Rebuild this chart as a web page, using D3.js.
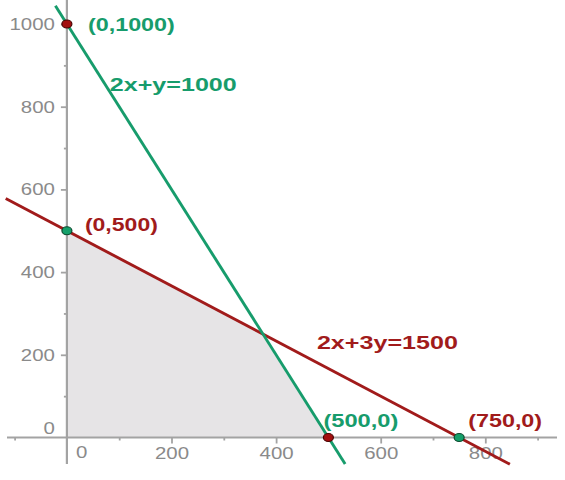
<!DOCTYPE html>
<html>
<head>
<meta charset="utf-8">
<script src="https://cdn.jsdelivr.net/npm/d3@7"></script>
<style>
html,body{margin:0;padding:0;background:#fff;}
svg{display:block;}
</style>
</head>
<body>
<svg id="chart" width="565" height="480"></svg>
<script>
// ---- data ----
const xMajorTicks = [200, 400, 600, 800];
const xMinorTicks = [-100, 100, 300, 500, 700, 900];
const yMajorTicks = [200, 400, 600, 800, 1000];
const yMinorTicks = [100, 300, 500, 700, 900];
const xOriginLabel = "0";
const yOriginLabel = "0";

// constraint lines: a*x + b*y = c, drawn over [xFrom, xTo]
const lineNames = ["2x+y=1000", "2x+3y=1500"];
const lineA = [2, 2];
const lineB = [1, 3];
const lineC = [1000, 1500];
const lineXFrom = [-22, -117];
const lineXTo = [532, 847];

// feasible region vertices
const regionX = [0, 0, 375, 500];
const regionY = [0, 500, 250, 0];

// intercept points
const pointX = [0, 0, 500, 750];
const pointY = [1000, 500, 0, 0];
const pointLabels = ["(0,1000)", "(0,500)", "(500,0)", "(750,0)"];
const pointOnLine = [0, 1, 0, 1]; // which line the point lies on

// ---- styles ----
const lineColors = ["#179c6c", "#a11b1b"];
const dotFill = ["#a30f0f", "#14a06a"];
const dotStroke = ["#4a0000", "#0a4a2e"];
const axisColor = "#a3a3a3";
const tickTextColor = "#8a8a8a";

const svg = d3.select("#chart");
const x = d3.scaleLinear().domain([0, 800]).range([66.9, 485.3]);
const y = d3.scaleLinear().domain([0, 1000]).range([437.5, 24]);

// feasible region
svg.append("polygon")
  .attr("points", regionX.map((d, i) => [x(d), y(regionY[i])].join(",")).join(" "))
  .attr("fill", "#e6e4e6");

// axes lines
svg.append("line").attr("x1", 7).attr("x2", 557).attr("y1", y(0)).attr("y2", y(0))
  .attr("stroke", axisColor).attr("stroke-width", 2);
svg.append("line").attr("x1", x(0)).attr("x2", x(0)).attr("y1", 0).attr("y2", 464)
  .attr("stroke", axisColor).attr("stroke-width", 2.2);

// x axis ticks
const gx = svg.append("g").attr("transform", `translate(0,${y(0)})`);
gx.call(d3.axisBottom(x).tickValues(xMajorTicks).tickSize(6).tickPadding(5).tickFormat(d3.format("d")));
const gxm = svg.append("g").attr("transform", `translate(0,${y(0)})`);
gxm.call(d3.axisBottom(x).tickValues(xMinorTicks).tickSize(3).tickFormat(""));

// y axis ticks
const gy = svg.append("g").attr("transform", `translate(${x(0)},0)`);
gy.call(d3.axisLeft(y).tickValues(yMajorTicks).tickSize(6).tickPadding(6).tickFormat(d3.format("d")));
const gym = svg.append("g").attr("transform", `translate(${x(0)},0)`);
gym.call(d3.axisLeft(y).tickValues(yMinorTicks).tickSize(3).tickFormat(""));

[gx, gxm, gy, gym].forEach(g => {
  g.select(".domain").remove();
  g.selectAll(".tick line").attr("stroke", axisColor).attr("stroke-width", 1.8);
  g.selectAll(".tick text")
    .attr("fill", tickTextColor)
    .attr("font-family", "Liberation Sans, Arial, sans-serif")
    .attr("font-size", 17);
});
gx.selectAll(".tick text").attr("dy", "0.71em").attr("y", 9);
gy.selectAll(".tick text").attr("x", -12);

// origin labels
svg.append("text").attr("x", x(0) + 9).attr("y", 458).text(xOriginLabel)
  .attr("fill", tickTextColor).attr("font-family", "Liberation Sans, Arial, sans-serif").attr("font-size", 17);
svg.append("text").attr("x", x(0) - 12).attr("y", 434).attr("text-anchor", "end").text(yOriginLabel)
  .attr("fill", tickTextColor).attr("font-family", "Liberation Sans, Arial, sans-serif").attr("font-size", 17);

// stretch tick labels horizontally
svg.selectAll("text").each(function () {
  const w = this.getComputedTextLength();
  d3.select(this).attr("textLength", w * 1.2).attr("lengthAdjust", "spacingAndGlyphs");
});

// constraint lines (red first, green on top)
[1, 0].forEach(i => {
  const f = xv => (lineC[i] - lineA[i] * xv) / lineB[i];
  svg.append("line")
    .attr("x1", x(lineXFrom[i])).attr("y1", y(f(lineXFrom[i])))
    .attr("x2", x(lineXTo[i])).attr("y2", y(f(lineXTo[i])))
    .attr("stroke", lineColors[i]).attr("stroke-width", 2.9);
});

// line labels
const lineLabelX = [82, 478];
const lineLabelY = [838, 214];
const lineLabelW = [127, 141];
lineNames.forEach((n, i) => {
  svg.append("text").attr("x", x(lineLabelX[i])).attr("y", y(lineLabelY[i]))
    .text(n).attr("fill", lineColors[i])
    .attr("font-family", "Liberation Sans, Arial, sans-serif").attr("font-weight", "bold")
    .attr("font-size", 19).attr("textLength", lineLabelW[i]).attr("lengthAdjust", "spacingAndGlyphs");
});

// points
const ptDx = [21, 18, -5, 9];
const ptDy = [7, 0, -11, -11];
const ptW = [87, 73, 75, 74];
pointX.forEach((px, i) => {
  const l = pointOnLine[i];
  const other = 1 - l;
  svg.append("ellipse").attr("cx", x(px)).attr("cy", y(pointY[i]))
    .attr("rx", 5).attr("ry", 4)
    .attr("fill", dotFill[other === 1 ? 0 : 1]).attr("stroke", dotStroke[other === 1 ? 0 : 1]).attr("stroke-width", 1.2);
  svg.append("text").attr("x", x(px) + ptDx[i]).attr("y", y(pointY[i]) + ptDy[i])
    .text(pointLabels[i]).attr("fill", lineColors[l])
    .attr("font-family", "Liberation Sans, Arial, sans-serif").attr("font-weight", "bold")
    .attr("font-size", 19).attr("textLength", ptW[i]).attr("lengthAdjust", "spacingAndGlyphs");
});
</script>
</body>
</html>
